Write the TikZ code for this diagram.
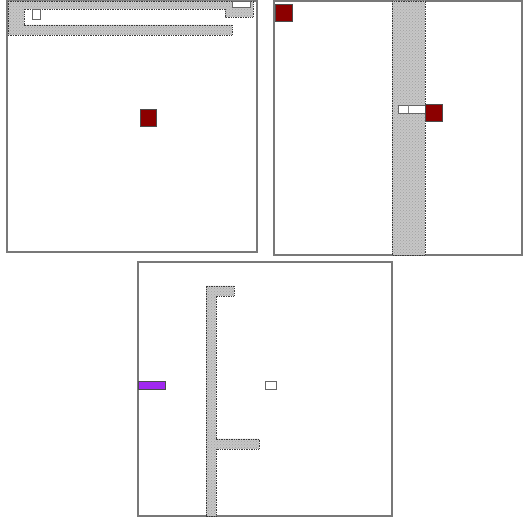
\documentclass[tikz,border=0pt]{standalone}
\usetikzlibrary{patterns}
\definecolor{wallred}{RGB}{140,0,0}
\definecolor{violetbar}{RGB}{160,40,240}
\definecolor{framegray}{RGB}{120,120,120}
\tikzset{
  frame/.style={draw=framegray, line width=1.2pt, fill=white},
  wallfill/.style={fill=gray!45},
  walltex/.style={pattern=crosshatch dots, pattern color=gray!75},
  wall/.style={draw=gray!45!black, densely dotted, line width=0.7pt},
  redbox/.style={draw=black!70, line width=0.5pt, fill=wallred},
  whitebox/.style={draw=black!60, line width=0.6pt, fill=white},
  violetbox/.style={draw=black!70, line width=0.5pt, fill=violetbar}
}
\begin{document}
\begin{tikzpicture}[x=1pt,y=-1pt]
\useasboundingbox (0,0) rectangle (523,518);
% panel 1
\draw[frame] (7,1) rectangle (257,252);
\path[wallfill] (8,1) -- (253,1) -- (253,17) -- (225,17) -- (225,9) -- (24,9) -- (24,25) -- (232,25) -- (232,35) -- (8,35) -- cycle;
\path[walltex] (8,1) -- (253,1) -- (253,17) -- (225,17) -- (225,9) -- (24,9) -- (24,25) -- (232,25) -- (232,35) -- (8,35) -- cycle;
\draw[wall] (8,1) -- (253,1) -- (253,17) -- (225,17) -- (225,9) -- (24,9) -- (24,25) -- (232,25) -- (232,35) -- (8,35) -- cycle;
\draw[whitebox] (32,9) rectangle (40,19);
\draw[whitebox] (232,1.5) rectangle (250,7);
\draw[redbox] (140,109) rectangle (156,126);
% panel 2
\draw[frame] (274,1) rectangle (522,255);
\path[wallfill] (392,1) rectangle (425,255);
\path[walltex] (392,1) rectangle (425,255);
\draw[wall] (392,1) rectangle (425,255);
\draw[whitebox] (398,105) rectangle (425,113);
\draw[black!50, line width=0.5pt] (408,105) -- (408,113);
\draw[redbox] (425,104) rectangle (442,121);
\draw[redbox] (275,4) rectangle (292,21);
% panel 3
\draw[frame] (138,262) rectangle (392,516);
\path[wallfill] (206,516) -- (206,286) -- (234,286) -- (234,296) -- (216,296) -- (216,439) -- (259,439) -- (259,449) -- (216,449) -- (216,516) -- cycle;
\path[walltex] (206,516) -- (206,286) -- (234,286) -- (234,296) -- (216,296) -- (216,439) -- (259,439) -- (259,449) -- (216,449) -- (216,516) -- cycle;
\draw[wall] (206,516) -- (206,286) -- (234,286) -- (234,296) -- (216,296) -- (216,439) -- (259,439) -- (259,449) -- (216,449) -- (216,516) -- cycle;
\draw[violetbox] (138,381) rectangle (165,389);
\draw[whitebox] (265,381) rectangle (276,389);
\end{tikzpicture}
\end{document}
